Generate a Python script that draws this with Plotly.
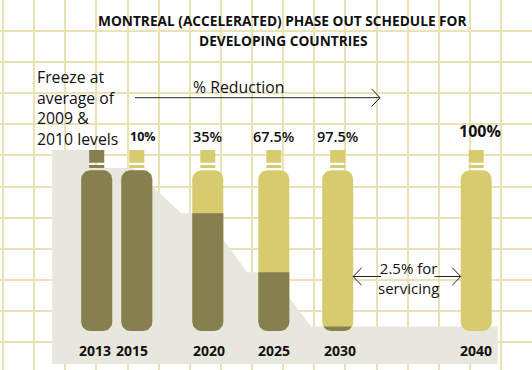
import plotly.graph_objects as go

# ---------------- data ----------------
years = ["2013", "2015", "2020", "2025", "2030", "2040"]
reduction_pct = [0, 10, 35, 67.5, 97.5, 100]          # % reduction from baseline
pct_labels = ["", "10%", "35%", "67.5%", "97.5%", "100%"]
servicing_pct = 2.5                                      # tail kept for servicing
title_lines = ["MONTREAL (ACCELERATED) PHASE OUT SCHEDULE FOR", "DEVELOPING COUNTRIES"]
freeze_text = "Freeze at<br>average of<br>2009 &<br>2010 levels"
reduction_text = "% Reduction"
servicing_text = "2.5% for<br>servicing"

# ---------------- layout / style ----------------
W, H = 532, 370
BASE_PX = 331.0          # pixel row of 0 %
PX_PER_Y = 1.81          # pixels per 1 % on y axis
slot_x = [96.7, 136.8, 207.8, 273.8, 337.7, 476.2]   # cylinder centres (x axis units = px)
BODY_W, CAP_W = 31.0, 15.0
R_PX = 9.0

DARK = "#868050"
YELLOW = "#D6CB6E"
GREY = "#E8E7DE"
GRID = "#EAE2B2"
FONT = "Open Sans"
INK = "#111111"

def yv(py):
    return (BASE_PX - py) / PX_PER_Y

y_range = [yv(H), yv(0)]
BODY_TOP = yv(170.3)
BAND = (yv(168.0), yv(165.0))
CAP = (yv(162.7), yv(150.0))
FLOOR = yv(364.0)

remaining = [100 - r for r in reduction_pct]


def rounded_rect(x0, x1, y0, y1, rx, ry, n=10):
    import math
    pts = []
    corners = [
        (x0 + rx, y0 + ry, math.pi, 1.5 * math.pi),
        (x1 - rx, y0 + ry, 1.5 * math.pi, 2 * math.pi),
        (x1 - rx, y1 - ry, 0, 0.5 * math.pi),
        (x0 + rx, y1 - ry, 0.5 * math.pi, math.pi),
    ]
    for cx, cy, a0, a1 in corners:
        for k in range(n + 1):
            a = a0 + (a1 - a0) * k / n
            pts.append((cx + rx * math.cos(a), cy + ry * math.sin(a)))
    return pts


def rect(x0, x1, y0, y1):
    return [(x0, y0), (x1, y0), (x1, y1), (x0, y1)]


def clip_below(pts, level):
    out = []
    m = len(pts)
    for i in range(m):
        p, q = pts[i], pts[(i + 1) % m]
        pin, qin = p[1] <= level, q[1] <= level
        if pin:
            out.append(p)
        if pin != qin:
            t = (level - p[1]) / (q[1] - p[1])
            out.append((p[0] + t * (q[0] - p[0]), level))
    return out


def poly_trace(pts, color):
    if not pts:
        return None
    xs = [p[0] for p in pts] + [pts[0][0]]
    ys = [p[1] for p in pts] + [pts[0][1]]
    return go.Scatter(x=xs, y=ys, mode="lines", fill="toself", fillcolor=color,
                      line=dict(width=0, color=color), hoverinfo="skip", showlegend=False)


fig = go.Figure()

# ---- grey step area of the remaining consumption ----
gx, gy = [], []
left0 = slot_x[0] - BODY_W / 2 - 29
gx += [left0, left0, slot_x[0] - CAP_W / 2, slot_x[0] - CAP_W / 2]
gy += [FLOOR, remaining[0], remaining[0], remaining[1]]
for i in range(1, 4):
    gx += [slot_x[i] - 4, slot_x[i + 1] - BODY_W / 2 - 11]
    gy += [remaining[i], remaining[i + 1]]
right_end = slot_x[-1] + BODY_W / 2 + 6
gx += [right_end, right_end]
gy += [servicing_pct, FLOOR]
fig.add_trace(poly_trace(list(zip(gx, gy)), GREY))

# ---- cylinders ----
ry = R_PX / PX_PER_Y
for cx, lvl in zip(slot_x, remaining):
    body = rounded_rect(cx - BODY_W / 2, cx + BODY_W / 2, 0, BODY_TOP, R_PX, ry)
    band = rect(cx - CAP_W / 2, cx + CAP_W / 2, BAND[0], BAND[1])
    cap = rect(cx - CAP_W / 2, cx + CAP_W / 2, CAP[0], CAP[1])
    for part in (body, band, cap):
        fig.add_trace(poly_trace(part, YELLOW))
        t = poly_trace(clip_below(part, lvl), DARK)
        if t is not None:
            fig.add_trace(t)

# ---- arrows (open chevrons) ----
def chevron(x_tail, x_tip, y, dx=8.4, dy_px=8.8):
    d = dy_px / PX_PER_Y
    s = 1 if x_tip > x_tail else -1
    return go.Scatter(
        x=[x_tail, x_tip, None, x_tip - s * dx, x_tip, x_tip - s * dx],
        y=[y, y, None, y + d, y, y - d],
        mode="lines", line=dict(color="#222222", width=1), hoverinfo="skip", showlegend=False)

fig.add_trace(chevron(135, 380, yv(97.7)))
y_serv = yv(276.5)
fig.add_trace(chevron(381, slot_x[4] + BODY_W / 2, y_serv))
fig.add_trace(chevron(434.5, slot_x[5] - BODY_W / 2, y_serv))

# ---- text ----
ann = []
for i, line in enumerate(title_lines):
    ann.append(dict(x=283 / W, y=1 - (20.5 + 19.5 * i) / H, xref="paper", yref="paper",
                    text=f"<b>{line}</b>", showarrow=False, xanchor="center", yanchor="middle",
                    font=dict(family=FONT, size=13.7, color=INK)))
ann.append(dict(x=35, y=yv(108), text=freeze_text, showarrow=False, xanchor="left",
                yanchor="middle", align="left",
                font=dict(family=FONT, size=15.8, color=INK)))
ann.append(dict(x=239, y=yv(87), text=reduction_text, showarrow=False, xanchor="center",
                yanchor="middle", font=dict(family=FONT, size=15.8, color=INK)))
ann.append(dict(x=408, y=yv(278), text=servicing_text, showarrow=False, xanchor="center",
                yanchor="middle", font=dict(family=FONT, size=15, color=INK)))

pct_style = [None, (12.5, 700, 136, 6), (14.5, 600, 136, 0), (14.5, 600, 136, 0),
             (14.5, 600, 136, 0), (16, 700, 131, 4)]
for cx, lab, st in zip(slot_x, pct_labels, pct_style):
    if not lab:
        continue
    size, weight, py, dx = st
    ann.append(dict(x=cx + dx, y=yv(py), text=lab, showarrow=False,
                    xanchor="center", yanchor="middle",
                    font=dict(family=FONT, size=size, color=INK, weight=weight)))
year_dx = [-2, -5, 1, 0, 2, 0]
for cx, yr, dx in zip(slot_x, years, year_dx):
    ann.append(dict(x=cx + dx, y=yv(350.5), text=f"<b>{yr}</b>", showarrow=False,
                    xanchor="center", yanchor="middle",
                    font=dict(family=FONT, size=14, color=INK)))

fig.update_layout(
    width=W, height=H, autosize=False,
    margin=dict(l=0, r=0, t=0, b=0, pad=0),
    paper_bgcolor="white", plot_bgcolor="white",
    showlegend=False, annotations=ann,
    xaxis=dict(range=[0, W], showgrid=True, gridcolor=GRID, gridwidth=1.5,
               tick0=3, dtick=31.125, showticklabels=False, zeroline=False,
               showline=False, ticks="", fixedrange=True),
    yaxis=dict(range=y_range, showgrid=True, gridcolor=GRID, gridwidth=1.5,
               tick0=yv(31), dtick=31.1 / PX_PER_Y, showticklabels=False, zeroline=False,
               showline=False, ticks="", fixedrange=True),
)

fig.write_html("out.html", config={"displayModeBar": False},
               post_script="document.body.style.margin='0';document.body.style.padding='0';")
